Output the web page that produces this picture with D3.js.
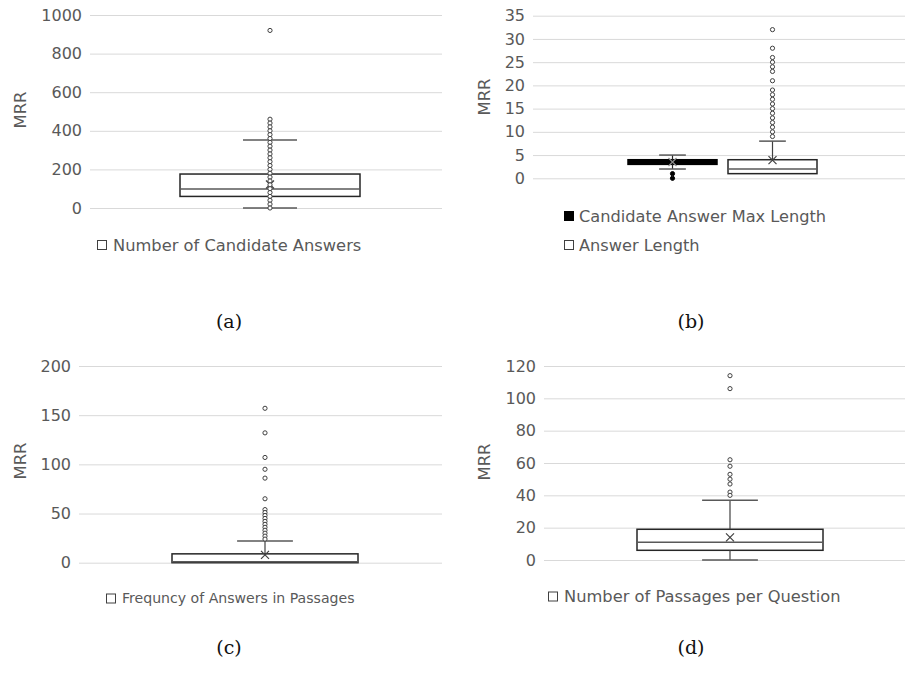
<!DOCTYPE html>
<html>
<head>
<meta charset="utf-8">
<script src="https://cdn.jsdelivr.net/npm/d3@7"></script>
<style>
  body { margin: 0; background: #fff; }
  text { font-family: 'DejaVu Sans', sans-serif; }
</style>
</head>
<body>
<div id="chart"></div>
<script>
// (a) number of candidate answers
const categoriesA = ['Number of Candidate Answers'];
const yTicksA = [0, 200, 400, 600, 800, 1000];
const boxesA = [[0, 60, 98, 176, 352]]; // low whisker, q1, median, q3, high whisker
const meansA = [122];
const pointsA = [[920, 460, 440, 420, 400, 380, 360, 340, 320, 300, 280, 260, 240, 220,
  200, 180, 160, 140, 120, 100, 80, 60, 40, 20, 0]];

// (b) answer lengths
const categoriesB = ['Candidate Answer Max Length', 'Answer Length'];
const yTicksB = [0, 5, 10, 15, 20, 25, 30, 35];
const boxesB = [[2, 3, 3, 4, 5], [1, 1, 2, 4, 8]];
const meansB = [3.5, 3.9];
const pointsB = [[1, 0],
  [32, 28, 26, 25, 24, 23, 21, 19, 18, 17, 16, 15, 14, 13, 12, 11, 10, 9]];

// (c) frequency of answers in passages
const categoriesC = ['Frequncy of Answers in Passages'];
const yTicksC = [0, 50, 100, 150, 200];
const boxesC = [[0, 0, 1, 9, 22]];
const meansC = [8];
const pointsC = [[157, 132, 107, 95, 86, 65, 54, 51, 48, 45, 42, 39, 36, 33, 30, 27, 24]];

// (d) passages per question
const categoriesD = ['Number of Passages per Question'];
const yTicksD = [0, 20, 40, 60, 80, 100, 120];
const boxesD = [[0, 6, 11, 19, 37]];
const meansD = [14];
const pointsD = [[114, 106, 62, 58, 53, 50, 47, 42, 40]];

const width = 909, height = 687;
const grey = '#595959';

const svg = d3.select('#chart').append('svg')
  .attr('width', width)
  .attr('height', height);

function drawPanel(p) {
  const y = d3.scaleLinear()
    .domain([0, d3.max(p.ticks)])
    .range(p.y);
  const x = d3.scaleBand()
    .domain(p.categories)
    .range(p.band)
    .paddingInner(p.inner)
    .paddingOuter(p.outer);

  const g = svg.append('g');

  // gridlines
  g.append('g')
    .attr('transform', `translate(${p.grid[0]},0)`)
    .call(d3.axisLeft(y).tickValues(p.ticks).tickSize(-(p.grid[1] - p.grid[0])).tickFormat(''))
    .call(a => a.select('.domain').remove())
    .call(a => a.selectAll('line').attr('stroke', '#d9d9d9'));

  // tick labels
  g.append('g')
    .attr('transform', `translate(${p.grid[0]},0)`)
    .call(d3.axisLeft(y).tickValues(p.ticks).tickSize(0).tickPadding(8).tickFormat(d3.format('d')))
    .call(a => a.select('.domain').remove())
    .call(a => a.selectAll('text').attr('fill', grey).style('font-size', '16px'));

  g.append('text')
    .attr('transform', `translate(${p.title[0]},${p.title[1]}) rotate(-90)`)
    .attr('text-anchor', 'middle')
    .attr('dy', '0.35em')
    .attr('fill', grey)
    .style('font-size', '16.5px')
    .text('MRR');

  const w = x.bandwidth();
  const cw = w * 0.3;

  p.categories.forEach((cat, i) => {
    const [lo, q1, med, q3, hi] = p.boxes[i];
    const cx = x(cat) + w / 2;
    const dark = p.fills[i] === '#000';
    const s = g.append('g');

    s.append('rect')
      .attr('x', x(cat))
      .attr('y', y(q3))
      .attr('width', w)
      .attr('height', y(q1) - y(q3))
      .attr('fill', p.fills[i])
      .attr('stroke', dark ? '#000' : '#262626')
      .attr('stroke-width', 1.5);
    if (!dark) {
      s.append('line')
        .attr('x1', x(cat)).attr('x2', x(cat) + w)
        .attr('y1', y(med)).attr('y2', y(med))
        .attr('stroke', grey).attr('stroke-width', 1.5);
    }
    // whiskers
    [[q3, hi], [q1, lo]].forEach(([a, b]) => {
      if (a === b) return;
      s.append('line')
        .attr('x1', cx).attr('x2', cx)
        .attr('y1', y(a)).attr('y2', y(b))
        .attr('stroke', dark ? '#262626' : '#404040').attr('stroke-width', 1.2);
      s.append('line')
        .attr('x1', cx - cw / 2).attr('x2', cx + cw / 2)
        .attr('y1', y(b)).attr('y2', y(b))
        .attr('stroke', grey).attr('stroke-width', 1.5);
    });
    // mean
    const ym = y(p.means[i]);
    s.append('path')
      .attr('d', `M${cx - 4},${ym - 4}L${cx + 4},${ym + 4}M${cx + 4},${ym - 4}L${cx - 4},${ym + 4}`)
      .attr('stroke', dark ? '#8c8c8c' : '#404040')
      .attr('stroke-width', 1.2)
      .attr('fill', 'none');
    // points
    s.selectAll('circle')
      .data(p.points[i])
      .join('circle')
      .attr('cx', cx)
      .attr('cy', d => y(d))
      .attr('r', 2.1)
      .attr('fill', dark ? '#000' : '#fff')
      .attr('stroke', dark ? '#000' : '#404040')
      .attr('stroke-width', 1);
  });

  // legend
  const lg = g.selectAll('.legend')
    .data(p.categories)
    .join('g')
    .attr('class', 'legend')
    .attr('transform', (d, i) => `translate(${p.legend[0]},${p.legend[1] + i * 29})`);
  lg.append('rect')
    .attr('x', 0.5).attr('y', -4.5)
    .attr('width', 9).attr('height', 9)
    .attr('fill', (d, i) => p.fills[i])
    .attr('stroke', (d, i) => p.fills[i] === '#000' ? '#000' : '#404040');
  lg.append('text')
    .attr('x', p.legendGap)
    .attr('dy', '0.35em')
    .attr('fill', grey)
    .style('font-size', p.legendFont + 'px')
    .text(d => d);

  svg.append('text')
    .attr('x', p.caption[0])
    .attr('y', p.caption[1])
    .attr('text-anchor', 'middle')
    .attr('fill', '#111')
    .style('font-family', "'DejaVu Serif', serif")
    .style('font-size', '19px')
    .text(p.label);
}

drawPanel({
  categories: categoriesA, ticks: yTicksA, boxes: boxesA, means: meansA, points: pointsA,
  fills: ['#fff'], label: '(a)',
  grid: [90, 442], band: [90, 450], inner: 0, outer: 0.5, y: [208, 15],
  title: [20, 110], legend: [97, 245], legendGap: 16, legendFont: 16.3, caption: [229, 328]
});
drawPanel({
  categories: categoriesB, ticks: yTicksB, boxes: boxesB, means: meansB, points: pointsB,
  fills: ['#000', '#fff'], label: '(b)',
  grid: [533, 905], band: [628, 817], inner: 0.11, outer: 0, y: [178.3, 15.7],
  title: [484, 97], legend: [564, 216], legendGap: 15, legendFont: 16.2, caption: [691, 328]
});
drawPanel({
  categories: categoriesC, ticks: yTicksC, boxes: boxesC, means: meansC, points: pointsC,
  fills: ['#fff'], label: '(c)',
  grid: [79, 442], band: [79, 451], inner: 0, outer: 0.5, y: [562.7, 366],
  title: [20, 461], legend: [106, 598.5], legendGap: 16, legendFont: 14.1, caption: [229, 654]
});
drawPanel({
  categories: categoriesD, ticks: yTicksD, boxes: boxesD, means: meansD, points: pointsD,
  fills: ['#fff'], label: '(d)',
  grid: [544, 905], band: [544, 916], inner: 0, outer: 0.5, y: [560, 366],
  title: [484, 462], legend: [548, 596.5], legendGap: 16, legendFont: 16.3, caption: [691, 654]
});
</script>
</body>
</html>
